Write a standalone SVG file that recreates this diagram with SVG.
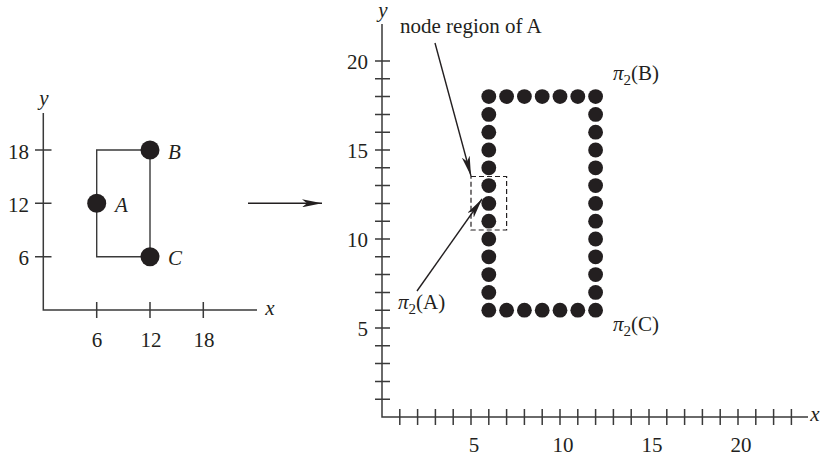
<svg xmlns="http://www.w3.org/2000/svg" width="821" height="457" viewBox="0 0 821 457">
<style>
text{font-family:"Liberation Serif","Times New Roman",serif;font-size:21px;fill:#231f20}
.it{font-style:italic}
.ax{stroke:#3a3a3a;stroke-width:1.5;fill:none}
.ln{stroke:#3a3a3a;stroke-width:1.4;fill:none}
.dot{fill:#231f20}
.arr{stroke:#231f20;stroke-width:1.4;fill:none}
.box{stroke:#231f20;stroke-width:1.2;fill:none;stroke-dasharray:5 3}
</style>
<defs>
<marker id="ah" viewBox="0 0 20 8" refX="20" refY="4" markerWidth="20" markerHeight="8" orient="auto" markerUnits="userSpaceOnUse">
<path d="M0,0 L20,4 L0,8 L5,4 z" fill="#231f20"/>
</marker>
<circle id="d" r="7.4" class="dot"/>
</defs>

<g id="left-axes">
<path class="ax" d="M43.3,113 V310 H257"/>
<path class="ax" d="M35,150 H51.5 M35,203.3 H51.5 M35,256.7 H51.5 M96.7,302 V318 M150,302 V318 M203.3,302 V318"/>
<text x="29" y="159" text-anchor="end">18</text>
<text x="29" y="212" text-anchor="end">12</text>
<text x="29" y="265" text-anchor="end">6</text>
<text x="97" y="346.5" text-anchor="middle">6</text>
<text x="151" y="346.5" text-anchor="middle">12</text>
<text x="204" y="346.5" text-anchor="middle">18</text>
<text class="it" x="270" y="315" text-anchor="middle">x</text>
<text class="it" x="44" y="105" text-anchor="middle">y</text>
</g>

<g id="left-connectors">
<path class="ln" d="M150,150 H96.7 V256.7 H150 M150,150 V256.7"/>
</g>

<g id="node-A"><circle cx="96.7" cy="203.3" r="9.5" class="dot"/><text class="it" x="115" y="212">A</text></g>
<g id="node-B"><circle cx="150" cy="150" r="9.5" class="dot"/><text class="it" x="168" y="159">B</text></g>
<g id="node-C"><circle cx="150" cy="256.7" r="9.5" class="dot"/><text class="it" x="168" y="265">C</text></g>

<g id="transform-arrow">
<line class="arr" x1="248" y1="203.3" x2="322" y2="203.3" marker-end="url(#ah)"/>
</g>

<g id="right-axes">
<path class="ax" d="M382,24 V417 H808"/>
<path class="ax" d="M399.8,409V425M417.6,409V425M435.4,409V425M453.2,409V425M471,409V425M488.8,409V425M506.6,409V425M524.4,409V425M542.2,409V425M560,409V425M577.8,409V425M595.6,409V425M613.4,409V425M631.2,409V425M649,409V425M666.8,409V425M684.6,409V425M702.4,409V425M720.2,409V425M738,409V425M755.8,409V425M773.6,409V425M791.4,409V425"/>
<path class="ax" d="M375,399.2H390M375,381.4H390M375,363.6H390M375,345.8H390M375,328H390M375,310.2H390M375,292.4H390M375,274.6H390M375,256.8H390M375,239H390M375,221.2H390M375,203.4H390M375,185.6H390M375,167.8H390M375,150H390M375,132.2H390M375,114.4H390M375,96.6H390M375,78.8H390M375,61H390"/>
<text x="368" y="69" text-anchor="end">20</text>
<text x="368" y="158" text-anchor="end">15</text>
<text x="368" y="247" text-anchor="end">10</text>
<text x="368" y="336" text-anchor="end">5</text>
<text x="474" y="452" text-anchor="middle">5</text>
<text x="563" y="452" text-anchor="middle">10</text>
<text x="652" y="452" text-anchor="middle">15</text>
<text x="741" y="452" text-anchor="middle">20</text>
<text class="it" x="815" y="421" text-anchor="middle">x</text>
<text class="it" x="383" y="17" text-anchor="middle">y</text>
</g>

<g id="node-pi-dots">
<use href="#d" x="488.8" y="96.6"/><use href="#d" x="506.6" y="96.6"/><use href="#d" x="524.4" y="96.6"/><use href="#d" x="542.2" y="96.6"/><use href="#d" x="560" y="96.6"/><use href="#d" x="577.8" y="96.6"/><use href="#d" x="595.6" y="96.6"/>
<use href="#d" x="488.8" y="310.2"/><use href="#d" x="506.6" y="310.2"/><use href="#d" x="524.4" y="310.2"/><use href="#d" x="542.2" y="310.2"/><use href="#d" x="560" y="310.2"/><use href="#d" x="577.8" y="310.2"/><use href="#d" x="595.6" y="310.2"/>
<use href="#d" x="488.8" y="114.4"/><use href="#d" x="488.8" y="132.2"/><use href="#d" x="488.8" y="150"/><use href="#d" x="488.8" y="167.8"/><use href="#d" x="488.8" y="185.6"/><use href="#d" x="488.8" y="203.4"/><use href="#d" x="488.8" y="221.2"/><use href="#d" x="488.8" y="239"/><use href="#d" x="488.8" y="256.8"/><use href="#d" x="488.8" y="274.6"/><use href="#d" x="488.8" y="292.4"/>
<use href="#d" x="595.6" y="114.4"/><use href="#d" x="595.6" y="132.2"/><use href="#d" x="595.6" y="150"/><use href="#d" x="595.6" y="167.8"/><use href="#d" x="595.6" y="185.6"/><use href="#d" x="595.6" y="203.4"/><use href="#d" x="595.6" y="221.2"/><use href="#d" x="595.6" y="239"/><use href="#d" x="595.6" y="256.8"/><use href="#d" x="595.6" y="274.6"/><use href="#d" x="595.6" y="292.4"/>
</g>

<g id="node-region-A">
<rect class="box" x="471" y="176.5" width="35.6" height="53.5"/>
</g>

<g id="labels">
<text x="400" y="33">node region of A</text>
<text x="398" y="309"><tspan class="it">π</tspan><tspan font-size="15" dy="5">2</tspan><tspan dy="-5">(A)</tspan></text>
<text x="613" y="80"><tspan class="it">π</tspan><tspan font-size="15" dy="5">2</tspan><tspan dy="-5">(B)</tspan></text>
<text x="613" y="331"><tspan class="it">π</tspan><tspan font-size="15" dy="5">2</tspan><tspan dy="-5">(C)</tspan></text>
</g>

<g id="connectors">
<line class="arr" x1="435" y1="43" x2="471" y2="176" marker-end="url(#ah)"/>
<line class="arr" x1="417" y1="291" x2="482" y2="199" marker-end="url(#ah)"/>
</g>
</svg>
